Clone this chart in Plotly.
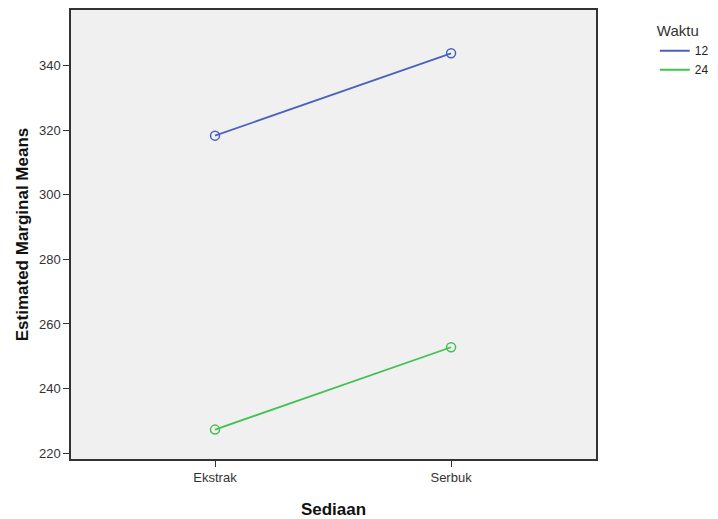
import plotly.graph_objects as go

categories = ["Ekstrak", "Serbuk"]
series_names = ["12", "24"]
values_12 = [318.3, 343.8]
values_24 = [227.3, 252.8]
y_ticks = [220, 240, 260, 280, 300, 320, 340]

colors = {"12": "#4A62BE", "24": "#43C052"}
font_family = "Liberation Sans, Arial, sans-serif"

fig = go.Figure()
for name, vals in zip(series_names, [values_12, values_24]):
    fig.add_trace(go.Scatter(
        x=[0, 1], y=vals, mode="lines+markers", name=name, showlegend=False,
        line=dict(color=colors[name], width=1.8),
        marker=dict(symbol="circle-open", size=9, color=colors[name], line=dict(width=1.5)),
    ))
    fig.add_trace(go.Scatter(
        x=[None], y=[None], mode="lines", name=name, showlegend=True,
        line=dict(color=colors[name], width=1.8),
    ))

# page body has an 8px margin, so the figure is offset by 8px
fig.update_layout(
    width=710, height=511,
    margin=dict(l=63, r=122, t=2, b=60, autoexpand=False),
    paper_bgcolor="white",
    plot_bgcolor="#F0F0F0",
    font=dict(family=font_family, size=13, color="#222"),
    legend=dict(
        title=dict(text="Waktu", side="top", font=dict(size=15, color="#333")),
        x=1.112, xanchor="left", y=0.985, yanchor="top",
        font=dict(size=12, color="#222"),
        tracegroupgap=0, itemwidth=30,
        bgcolor="rgba(0,0,0,0)",
    ),
    xaxis=dict(
        range=[-0.61, 1.614], tickmode="array", tickvals=[0, 1], ticktext=categories,
        showgrid=False, zeroline=False, showline=True, mirror=True, automargin=False,
        linecolor="#333", linewidth=1.5, ticks="outside", ticklen=6, tickcolor="#333",
        title=dict(text="<b>Sediaan</b>", font=dict(size=17, color="#111"), standoff=25),
        tickfont=dict(size=13, color="#333"),
    ),
    yaxis=dict(
        range=[218.2, 357.2], tickmode="array", tickvals=y_ticks,
        showgrid=False, zeroline=False, showline=True, mirror=True, automargin=False,
        linecolor="#333", linewidth=1.5, ticks="outside", ticklen=6, tickcolor="#333",
        title=dict(text="<b>Estimated Marginal Means</b>", font=dict(size=17, color="#111"), standoff=6),
        tickfont=dict(size=13, color="#333"),
    ),
)

fig.write_html("out.html")
